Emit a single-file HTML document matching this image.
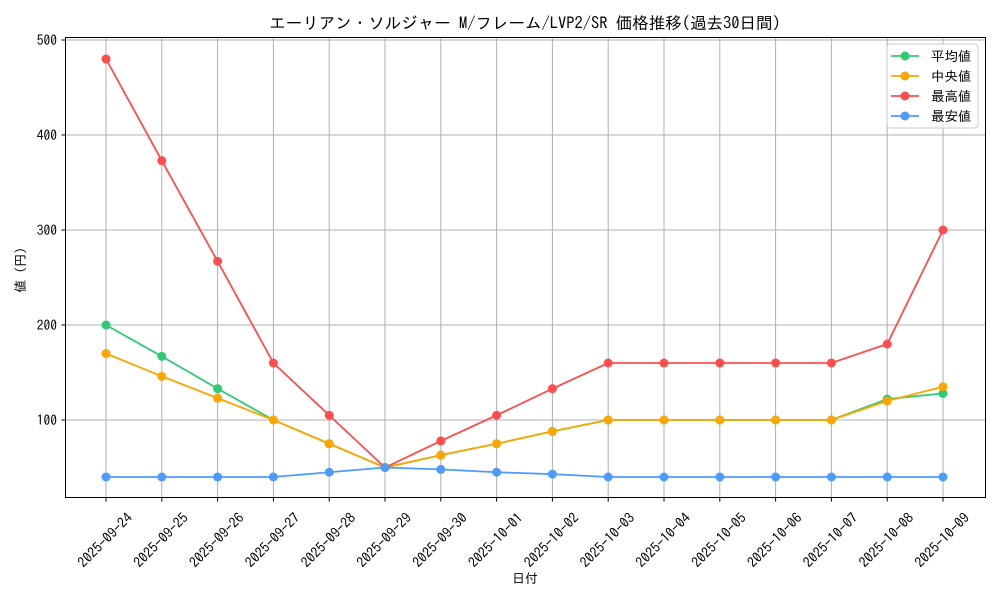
<!DOCTYPE html>
<html><head><meta charset="utf-8"><style>
body{margin:0;background:#fff;}
svg text{font-family:"IPAGothic","Noto Sans CJK JP",sans-serif;}
</style></head><body>
<svg id="chart" width="1000" height="600" xmlns="http://www.w3.org/2000/svg">
<rect width="1000" height="600" fill="#fff"/>
<g id="grid"></g>
<g id="series"></g>
<rect x="65.5" y="37.5" width="920" height="460" fill="none" stroke="#000" stroke-width="1"/>
<g id="axes"></g>
<text x="525" y="29" text-anchor="middle" font-size="16.5">エーリアン・ソルジャー M/フレーム/LVP2/SR 価格推移(過去30日間)</text>
<text x="525" y="583" text-anchor="middle" font-size="13">日付</text>
<text transform="translate(25,270) rotate(-90)" text-anchor="middle" font-size="13">値 (円)</text>
<g>
<rect x="887" y="44" width="91" height="84" rx="3" fill="#fff" fill-opacity="0.85" stroke="#ccc"/>
<g id="legend"></g>
</g>
</svg>
<script>
const dates=["2025-09-24","2025-09-25","2025-09-26","2025-09-27","2025-09-28","2025-09-29","2025-09-30","2025-10-01","2025-10-02","2025-10-03","2025-10-04","2025-10-05","2025-10-06","2025-10-07","2025-10-08","2025-10-09"];
const avgValues=[200,167,133,100,75,50,63,75,88,100,100,100,100,100,122,128];
const medianValues=[170,146,123,100,75,50,63,75,88,100,100,100,100,100,120,135];
const maxValues=[480,373,267,160,105,50,78,105,133,160,160,160,160,160,180,300];
const minValues=[40,40,40,40,45,50,48,45,43,40,40,40,40,40,40,40];
const yTicks=[100,200,300,400,500];
const seriesNames=["平均値","中央値","最高値","最安値"];
const NS="http://www.w3.org/2000/svg";
function x(i){return 106+i*(943-106)/(dates.length-1);}
function y(v){return 515-v*0.95;}
function mk(tag,attrs,parent){const e=document.createElementNS(NS,tag);for(const k in attrs)e.setAttribute(k,attrs[k]);parent.appendChild(e);return e;}
const grid=document.getElementById('grid'),axes=document.getElementById('axes'),ser=document.getElementById('series'),leg=document.getElementById('legend');
dates.forEach((d,i)=>{
 const gl=mk('line',{x1:x(i),x2:x(i),y1:37.5,y2:497.5,stroke:'#b0b0b0','stroke-width':1},grid);
 
 
 mk('line',{x1:x(i),x2:x(i),y1:497.5,y2:501.5,stroke:'#000'},axes);
 const t=mk('text',{x:0,y:5,'font-size':14,'text-anchor':'middle',transform:`translate(${x(i)-1},${540}) rotate(-45)`},axes);
 
 
 t.textContent=d;
});
yTicks.forEach(v=>{
 const gl=mk('line',{x1:65.5,x2:985.5,y1:y(v),y2:y(v),stroke:'#b0b0b0','stroke-width':1},grid);
 
 
 mk('line',{x1:61.5,x2:65.5,y1:y(v),y2:y(v),stroke:'#000'},axes);
 const t=mk('text',{x:57,y:y(v)+5,'font-size':13.5,'text-anchor':'end'},axes);
 
 
 t.textContent=v;
});
const all=[avgValues,medianValues,maxValues,minValues];
const colors=["#2ecc71","#ffa500","#ff4d4d","#4d9bff"];
const keys=["avg","median","max","min"];
all.forEach((vals,s)=>{
 const g=mk('g',{},ser);
 
 
 mk('polyline',{points:vals.map((v,i)=>x(i)+','+y(v)).join(' '),fill:'none',stroke:colors[s],'stroke-width':1.8},g);
 vals.forEach((v,i)=>{
  const c=mk('circle',{cx:x(i),cy:y(v),r:4.5,fill:colors[s]},g);
  
  
 });
 const ly=56+s*20;
 const le=mk('g',{},leg);
 
 
 mk('line',{x1:891,x2:919,y1:ly,y2:ly,stroke:colors[s],'stroke-width':1.8},le);
 mk('circle',{cx:905,cy:ly,r:4.5,fill:colors[s]},le);
 const t=mk('text',{x:931,y:ly+5,'font-size':13.5},le);
 t.textContent=(s===1?' ':'')+seriesNames[s];
});
</script>
</body></html>
